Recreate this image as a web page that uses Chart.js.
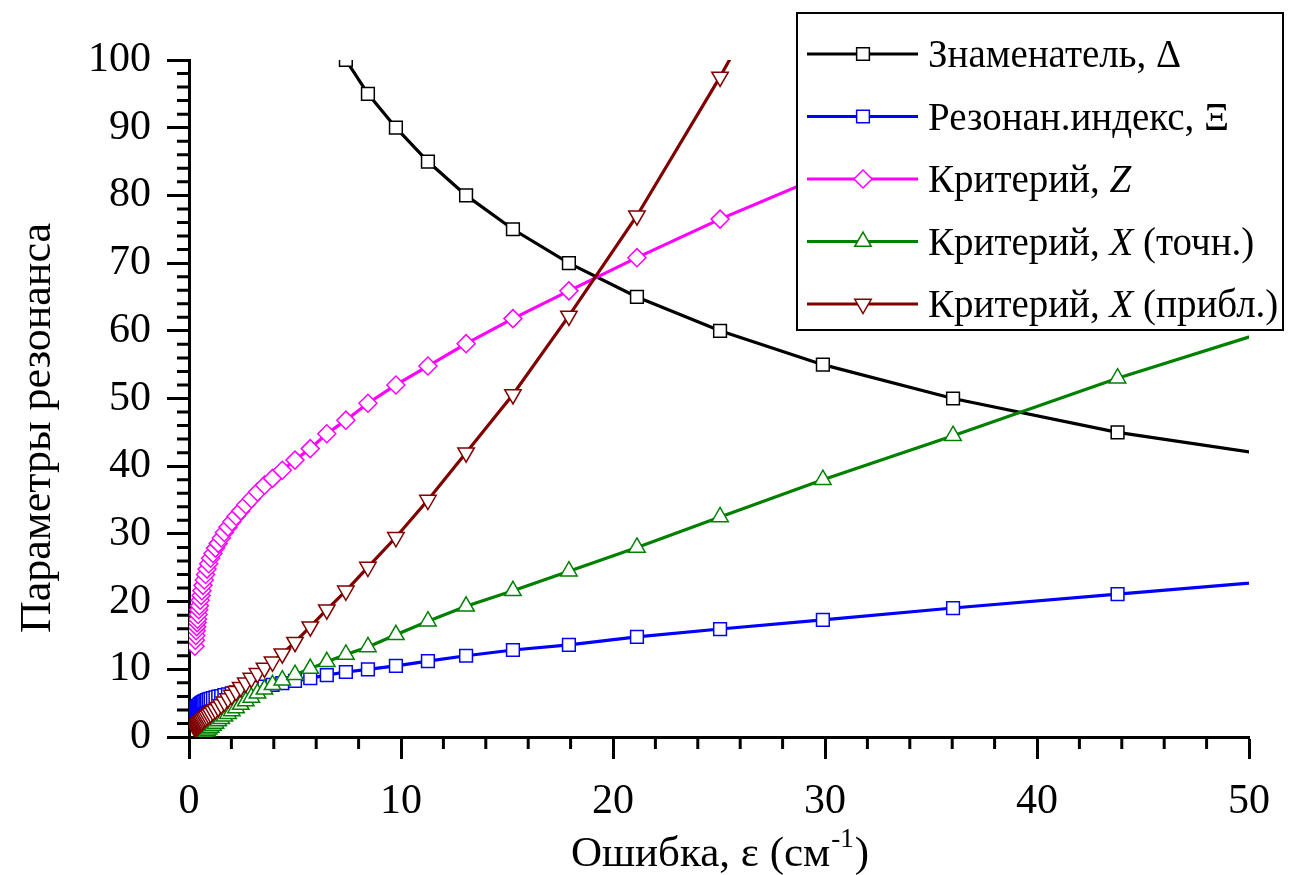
<!DOCTYPE html>
<html>
<head>
<meta charset="utf-8">
<script src="https://cdn.jsdelivr.net/npm/chart.js@4.4.1/dist/chart.umd.min.js"></script>
<style>
  html, body { margin: 0; padding: 0; background: #fff; }
  canvas { display: block; }
</style>
</head>
<body>
<canvas id="grafico" width="1294" height="875"></canvas>
<script>
// Ошибка ε (см^-1) — общая сетка по оси X для всех кривых
const eps = [
  0.28, 0.30, 0.32, 0.34, 0.36, 0.38, 0.40, 0.43, 0.46, 0.49,
  0.53, 0.57, 0.61, 0.66, 0.72, 0.78, 0.85, 0.93, 1.02, 1.13,
  1.25, 1.38, 1.52, 1.67, 1.84, 2.02, 2.22, 2.44, 2.68, 2.94,
  3.23, 3.56, 3.94, 4.40, 5.00, 5.72, 6.50, 7.40, 8.44, 9.76,
  11.27, 13.07, 15.28, 17.92, 21.13, 25.05, 29.90, 36.04, 43.80, 54.50
];

// Знаменатель Δ (при малых ε выходит за 100)
const delta = [
  null, null, null, null, null, null, null, null, null, null,
  null, null, null, null, null, null, null, null, null, null,
  null, null, null, null, null, null, null, null, null, null,
  null, null, null, null, null, null, 105, 100, 95, 90,
  85, 80, 75, 70, 65, 60, 55, 50, 45, 40
];

// Резонансный индекс Ξ
const xi = [
  3.9, 4.0, 4.1, 4.2, 4.3, 4.35, 4.45, 4.55, 4.65, 4.75,
  4.85, 4.95, 5.05, 5.15, 5.25, 5.35, 5.45, 5.55, 5.65, 5.75,
  5.85, 5.95, 6.05, 6.2, 6.3, 6.45, 6.6, 6.75, 6.9, 7.05,
  7.25, 7.45, 7.7, 7.95, 8.3, 8.7, 9.15, 9.6, 10.0, 10.5,
  11.2, 12.0, 12.85, 13.6, 14.8, 15.95, 17.3, 19.05, 21.1, 23.9
];

// Критерий Z
const critZ = [
  13.4, 14.3, 15.0, 15.7, 16.3, 16.9, 17.4, 18.1, 18.8, 19.4,
  20.2, 20.9, 21.6, 22.4, 23.2, 24.0, 24.8, 25.6, 26.4, 27.1,
  27.9, 28.6, 29.4, 30.2, 31.0, 31.8, 32.6, 33.4, 34.3, 35.2,
  36.2, 37.2, 38.2, 39.4, 40.9, 42.6, 44.8, 46.8, 49.3, 52.0,
  54.8, 58.1, 61.8, 65.9, 70.8, 76.5, 82.9, 89.5, 96.5, 105
];

// Критерий X, точный расчёт
const critXexact = [
  null, null, null, null, null, null, null, null, null, -0.5,
  -0.3, -0.1, 0.1, 0.3, 0.5, 0.7, 0.9, 1.15, 1.4, 1.7,
  2.0, 2.35, 2.7, 3.05, 3.45, 3.85, 4.3, 4.8, 5.3, 5.85,
  6.45, 7.05, 7.7, 8.4, 9.2, 10.1, 11.1, 12.2, 13.3, 15.1,
  17.1, 19.3, 21.6, 24.5, 28.0, 32.5, 38.0, 44.5, 53.0, 63.5
];

// Критерий X, приближённая формула
const critXapprox = [
  1.4, 1.45, 1.5, 1.55, 1.6, 1.7, 1.75, 1.85, 1.95, 2.05,
  2.15, 2.3, 2.4, 2.55, 2.75, 2.9, 3.1, 3.3, 3.5, 3.8,
  4.05, 4.4, 4.8, 5.2, 5.7, 6.2, 6.75, 7.35, 8.0, 8.7,
  9.4, 10.2, 11.1, 12.3, 14.0, 16.3, 18.8, 21.6, 25.1, 29.5,
  35.0, 42.0, 50.6, 62.2, 77.0, 97.5, 125, null, null, null
];

const seriesNames = [
  "Знаменатель, Δ",
  "Резонан.индекс, Ξ",
  "Критерий, Z",
  "Критерий, X (точн.)",
  "Критерий, X (прибл.)"
];
const seriesColors = ["#000000", "#0000ff", "#ff00ff", "#008000", "#800000"];
const seriesMarkers = ["rect", "rect", "rectRot", "triangle", "triangle"];

const xTicks = [0, 10, 20, 30, 40, 50];
const yTicks = [0, 10, 20, 30, 40, 50, 60, 70, 80, 90, 100];

const FONT = "'Liberation Serif', 'Times New Roman', serif";

function toPoints(ys) {
  return eps.map((x, i) => ({ x: x, y: ys[i] }));
}

const seriesValues = [delta, xi, critZ, critXexact, critXapprox];

const datasets = seriesValues.map((ys, i) => ({
  label: seriesNames[i],
  data: toPoints(ys),
  borderColor: seriesColors[i],
  backgroundColor: "#ffffff",
  borderWidth: 3.2,
  pointStyle: seriesMarkers[i],
  pointRotation: i === 4 ? 180 : 0,
  pointRadius: seriesMarkers[i] === "triangle" ? 9.5 : 9,
  pointBorderWidth: 1.5,
  pointBorderColor: seriesColors[i],
  pointBackgroundColor: "#ffffff",
  tension: 0,
  clip: 0,
  order: 4 - i // последняя кривая рисуется поверх
}));

// мелкие засечки через 2 единицы
const minorTicks = {
  id: "minorTicks",
  afterDraw(chart) {
    const { ctx, scales: { x, y } } = chart;
    ctx.save();
    ctx.strokeStyle = "#000";
    ctx.lineWidth = 3;
    ctx.beginPath();
    for (let v = x.min; v <= x.max; v += 2) {
      if (v % 10 === 0) continue;
      const px = x.getPixelForValue(v);
      ctx.moveTo(px, x.top);
      ctx.lineTo(px, x.top + 12);
    }
    for (let v = y.min; v <= y.max; v += 2) {
      if (v % 10 === 0) continue;
      const py = y.getPixelForValue(v);
      ctx.moveTo(y.right, py);
      ctx.lineTo(y.right - 12, py);
    }
    ctx.stroke();
    ctx.restore();
  }
};

// подписи осей (у оси X — верхний индекс)
const axisTitles = {
  id: "axisTitles",
  afterDraw(chart) {
    const { ctx, chartArea } = chart;
    ctx.save();
    ctx.fillStyle = "#000";
    ctx.textBaseline = "alphabetic";
    ctx.textAlign = "left";

    const main = "Ошибка, ε (см";
    const sup = "-1";
    const tail = ")";
    ctx.font = "43px " + FONT;
    const w1 = ctx.measureText(main).width;
    const w3 = ctx.measureText(tail).width;
    ctx.font = "27px " + FONT;
    const w2 = ctx.measureText(sup).width;
    let tx = (chartArea.left + chartArea.right) / 2 - (w1 + w2 + w3) / 2;
    const base = 866;
    ctx.font = "43px " + FONT;
    ctx.fillText(main, tx, base);
    tx += w1;
    ctx.font = "27px " + FONT;
    ctx.fillText(sup, tx + 1, base - 19);
    tx += w2 + 2;
    ctx.font = "43px " + FONT;
    ctx.fillText(tail, tx, base);

    ctx.translate(50, 428);
    ctx.rotate(-Math.PI / 2);
    ctx.textAlign = "center";
    ctx.font = "44px " + FONT;
    ctx.fillText("Параметры резонанса", 0, 0);
    ctx.restore();
  }
};

// легенда в рамке поверх кривых
const legendBox = {
  id: "legendBox",
  afterDraw(chart) {
    const ctx = chart.ctx;
    const L = 797, T = 13, R = 1283, B = 330;
    ctx.save();
    ctx.fillStyle = "#fff";
    ctx.fillRect(L, T, R - L, B - T);
    ctx.lineWidth = 2;
    ctx.strokeStyle = "#000";
    ctx.strokeRect(L, T, R - L, B - T);

    chart.data.datasets.forEach((ds, i) => {
      const yy = 54 + i * 62.5;
      ctx.strokeStyle = ds.borderColor;
      ctx.lineWidth = ds.borderWidth;
      ctx.beginPath();
      ctx.moveTo(807, yy);
      ctx.lineTo(918, yy);
      ctx.stroke();

      ctx.fillStyle = "#fff";
      ctx.lineWidth = ds.pointBorderWidth;
      Chart.helpers.drawPoint(ctx, {
        pointStyle: ds.pointStyle,
        rotation: ds.pointRotation,
        radius: ds.pointRadius,
        borderWidth: ds.pointBorderWidth
      }, 863, yy);

      // латинские буквы-обозначения — курсивом
      let tx = 928;
      ctx.fillStyle = "#000";
      ctx.textBaseline = "middle";
      ds.label.split(/([A-Z])/).forEach((part) => {
        if (!part) return;
        ctx.font = (/^[A-Z]$/.test(part) ? "italic " : "") + "39px " + FONT;
        ctx.fillText(part, tx, yy + 3);
        tx += ctx.measureText(part).width;
      });
    });
    ctx.restore();
  }
};

new Chart(document.getElementById("grafico"), {
  type: "line",
  data: { datasets },
  options: {
    responsive: false,
    animation: false,
    layout: { padding: { left: 0, top: 60, right: 45, bottom: 0 } },
    plugins: {
      legend: { display: false },
      tooltip: { enabled: false }
    },
    scales: {
      x: {
        type: "linear",
        min: 0,
        max: 50,
        afterBuildTicks: (scale) => { scale.ticks = xTicks.map((v) => ({ value: v })); },
        afterFit: (scale) => { scale.height = 138; },
        border: { display: true, color: "#000", width: 3 },
        grid: { display: true, drawOnChartArea: false, drawTicks: true, tickLength: 22, tickColor: "#000", tickWidth: 3 },
        ticks: { color: "#000", font: { family: FONT, size: 42 }, padding: 18, maxRotation: 0, autoSkip: false }
      },
      y: {
        type: "linear",
        min: 0,
        max: 100,
        afterBuildTicks: (scale) => { scale.ticks = yTicks.map((v) => ({ value: v })); },
        afterFit: (scale) => { scale.width = 189; },
        border: { display: true, color: "#000", width: 3 },
        grid: { display: true, drawOnChartArea: false, drawTicks: true, tickLength: 22, tickColor: "#000", tickWidth: 3 },
        ticks: { color: "#000", font: { family: FONT, size: 42 }, padding: 16, autoSkip: false }
      }
    }
  },
  plugins: [minorTicks, axisTitles, legendBox]
});
</script>
</body>
</html>
